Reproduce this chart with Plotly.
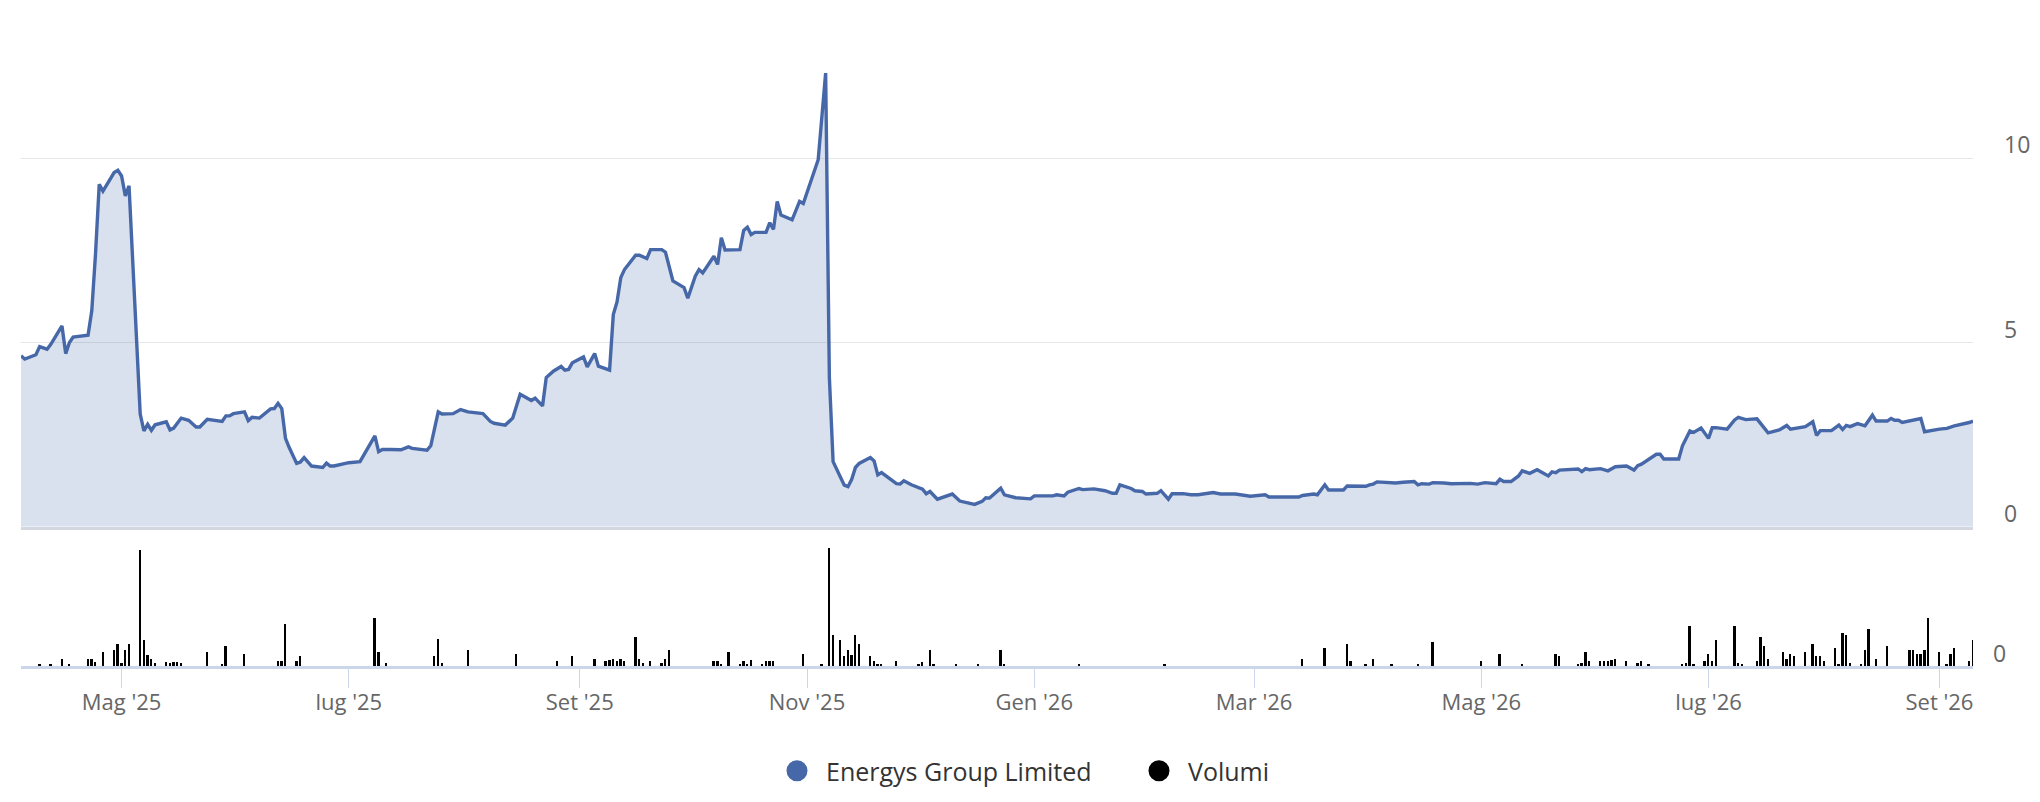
import plotly.graph_objects as go

# price line (Energys Group Limited)
price_dates = [
    "2025-04-04", "2025-04-05", "2025-04-08", "2025-04-09", "2025-04-11", "2025-04-12",
    "2025-04-15", "2025-04-16", "2025-04-17", "2025-04-18", "2025-04-22", "2025-04-23",
    "2025-04-24", "2025-04-25", "2025-04-26", "2025-04-29", "2025-04-30", "2025-05-01",
    "2025-05-02", "2025-05-03", "2025-05-06", "2025-05-07", "2025-05-08", "2025-05-09",
    "2025-05-10", "2025-05-13", "2025-05-14", "2025-05-15", "2025-05-17", "2025-05-19",
    "2025-05-21", "2025-05-22", "2025-05-24", "2025-05-28", "2025-05-29", "2025-05-30",
    "2025-05-31", "2025-06-03", "2025-06-04", "2025-06-05", "2025-06-07", "2025-06-10",
    "2025-06-11", "2025-06-12", "2025-06-13", "2025-06-14", "2025-06-15", "2025-06-17",
    "2025-06-18", "2025-06-19", "2025-06-21", "2025-06-24", "2025-06-25", "2025-06-26",
    "2025-06-27", "2025-07-01", "2025-07-04", "2025-07-08", "2025-07-09", "2025-07-10",
    "2025-07-12", "2025-07-15", "2025-07-17", "2025-07-18", "2025-07-22", "2025-07-23",
    "2025-07-25", "2025-07-26", "2025-07-29", "2025-07-31", "2025-08-02", "2025-08-05",
    "2025-08-06", "2025-08-08", "2025-08-09", "2025-08-12", "2025-08-14", "2025-08-16",
    "2025-08-19", "2025-08-20", "2025-08-22", "2025-08-23", "2025-08-25", "2025-08-27",
    "2025-08-28", "2025-08-29", "2025-08-30", "2025-09-02", "2025-09-03", "2025-09-05",
    "2025-09-06", "2025-09-09", "2025-09-10", "2025-09-11", "2025-09-12", "2025-09-13",
    "2025-09-16", "2025-09-17", "2025-09-19", "2025-09-20", "2025-09-23", "2025-09-24",
    "2025-09-25", "2025-09-26", "2025-09-29", "2025-09-30", "2025-10-02", "2025-10-03",
    "2025-10-04", "2025-10-07", "2025-10-08", "2025-10-09", "2025-10-10", "2025-10-14",
    "2025-10-15", "2025-10-16", "2025-10-17", "2025-10-18", "2025-10-21", "2025-10-22",
    "2025-10-23", "2025-10-24", "2025-10-25", "2025-10-28", "2025-10-30", "2025-10-31",
    "2025-11-04", "2025-11-06", "2025-11-07", "2025-11-08", "2025-11-11", "2025-11-12",
    "2025-11-13", "2025-11-14", "2025-11-15", "2025-11-18", "2025-11-19", "2025-11-20",
    "2025-11-21", "2025-11-25", "2025-11-26", "2025-11-27", "2025-11-29", "2025-12-02",
    "2025-12-03", "2025-12-04", "2025-12-06", "2025-12-10", "2025-12-12", "2025-12-16",
    "2025-12-18", "2025-12-19", "2025-12-20", "2025-12-23", "2025-12-24", "2025-12-27",
    "2025-12-31", "2026-01-01", "2026-01-06", "2026-01-07", "2026-01-09", "2026-01-10",
    "2026-01-13", "2026-01-14", "2026-01-17", "2026-01-20", "2026-01-22", "2026-01-23",
    "2026-01-24", "2026-01-27", "2026-01-28", "2026-01-30", "2026-01-31", "2026-02-03",
    "2026-02-04", "2026-02-06", "2026-02-07", "2026-02-10", "2026-02-12", "2026-02-14",
    "2026-02-18", "2026-02-20", "2026-02-24", "2026-02-28", "2026-03-04", "2026-03-05",
    "2026-03-08", "2026-03-13", "2026-03-14", "2026-03-17", "2026-03-18", "2026-03-20",
    "2026-03-21", "2026-03-25", "2026-03-26", "2026-03-29", "2026-03-31", "2026-04-01",
    "2026-04-02", "2026-04-03", "2026-04-06", "2026-04-08", "2026-04-10", "2026-04-13",
    "2026-04-14", "2026-04-15", "2026-04-17", "2026-04-18", "2026-04-21", "2026-04-23",
    "2026-04-28", "2026-04-29", "2026-04-30", "2026-05-02", "2026-05-05", "2026-05-06",
    "2026-05-07", "2026-05-09", "2026-05-11", "2026-05-12", "2026-05-14", "2026-05-16",
    "2026-05-19", "2026-05-20", "2026-05-21", "2026-05-22", "2026-05-27", "2026-05-28",
    "2026-05-29", "2026-05-30", "2026-06-02", "2026-06-04", "2026-06-06", "2026-06-09",
    "2026-06-11", "2026-06-12", "2026-06-13", "2026-06-17", "2026-06-18", "2026-06-19",
    "2026-06-23", "2026-06-24", "2026-06-26", "2026-06-27", "2026-06-29", "2026-07-01",
    "2026-07-02", "2026-07-03", "2026-07-06", "2026-07-08", "2026-07-09", "2026-07-11",
    "2026-07-14", "2026-07-17", "2026-07-20", "2026-07-22", "2026-07-23", "2026-07-27",
    "2026-07-29", "2026-07-30", "2026-07-31", "2026-08-03", "2026-08-05", "2026-08-06",
    "2026-08-07", "2026-08-08", "2026-08-10", "2026-08-12", "2026-08-14", "2026-08-15",
    "2026-08-18", "2026-08-19", "2026-08-20", "2026-08-21", "2026-08-22", "2026-08-27",
    "2026-08-28", "2026-09-01", "2026-09-03", "2026-09-05", "2026-09-07", "2026-09-09",
    "2026-09-10",
]
price_values = [
    4.64, 4.55, 4.67, 4.89, 4.82, 4.95,
    5.45, 4.70, 5.00, 5.15, 5.20, 5.86,
    7.40, 9.29, 9.11, 9.61, 9.67, 9.52,
    8.98, 9.25, 3.06, 2.60, 2.78, 2.62,
    2.77, 2.85, 2.63, 2.68, 2.95, 2.89,
    2.71, 2.71, 2.92, 2.86, 3.01, 3.01,
    3.07, 3.12, 2.88, 2.97, 2.95, 3.20,
    3.21, 3.35, 3.21, 2.40, 2.15, 1.72,
    1.76, 1.88, 1.65, 1.61, 1.73, 1.65,
    1.65, 1.74, 1.77, 2.47, 2.04, 2.10,
    2.10, 2.09, 2.17, 2.13, 2.08, 2.20,
    3.12, 3.06, 3.07, 3.18, 3.12, 3.07,
    3.07, 2.86, 2.81, 2.76, 2.95, 3.60,
    3.43, 3.49, 3.28, 4.05, 4.23, 4.35,
    4.25, 4.27, 4.45, 4.61, 4.34, 4.70,
    4.36, 4.25, 5.76, 6.10, 6.76, 6.98,
    7.37, 7.37, 7.28, 7.52, 7.52, 7.45,
    7.07, 6.67, 6.49, 6.20, 6.80, 6.98,
    6.89, 7.34, 7.12, 7.84, 7.51, 7.52,
    8.04, 8.13, 7.93, 7.99, 7.99, 8.25,
    8.07, 8.83, 8.46, 8.33, 8.83, 8.77,
    9.96, 12.31, 4.05, 1.77, 1.13, 1.09,
    1.29, 1.61, 1.72, 1.88, 1.79, 1.41,
    1.47, 1.17, 1.16, 1.25, 1.14, 1.02,
    0.90, 0.96, 0.75, 0.89, 0.70, 0.61,
    0.69, 0.79, 0.78, 1.05, 0.87, 0.79,
    0.76, 0.84, 0.84, 0.87, 0.84, 0.94,
    1.04, 1.01, 1.03, 0.98, 0.91, 0.91,
    1.14, 1.04, 0.98, 0.96, 0.89, 0.91,
    0.98, 0.75, 0.90, 0.90, 0.87, 0.87,
    0.93, 0.89, 0.89, 0.83, 0.87, 0.81,
    0.81, 0.81, 0.85, 0.89, 0.87, 1.14,
    1.00, 1.00, 1.11, 1.11, 1.10, 1.14,
    1.16, 1.22, 1.21, 1.19, 1.21, 1.23,
    1.14, 1.17, 1.16, 1.20, 1.19, 1.17,
    1.18, 1.16, 1.16, 1.20, 1.17, 1.29,
    1.23, 1.23, 1.38, 1.52, 1.45, 1.55,
    1.38, 1.49, 1.47, 1.54, 1.57, 1.50,
    1.58, 1.55, 1.58, 1.52, 1.63, 1.65,
    1.54, 1.66, 1.70, 1.97, 1.97, 1.84,
    1.84, 2.20, 2.60, 2.56, 2.68, 2.40,
    2.69, 2.69, 2.65, 2.90, 2.97, 2.91,
    2.93, 2.55, 2.63, 2.75, 2.65, 2.72,
    2.85, 2.48, 2.61, 2.61, 2.76, 2.64,
    2.75, 2.72, 2.80, 2.74, 3.03, 2.87,
    2.87, 2.94, 2.89, 2.89, 2.83, 2.94,
    2.58, 2.65, 2.67, 2.74, 2.78, 2.83,
    2.87,
]

# volume bars (Volumi)
volume_dates = [
    "2025-04-09", "2025-04-12", "2025-04-15", "2025-04-17", "2025-04-22", "2025-04-23",
    "2025-04-24", "2025-04-26", "2025-04-29", "2025-04-30", "2025-05-01", "2025-05-02",
    "2025-05-03", "2025-05-06", "2025-05-07", "2025-05-08", "2025-05-09", "2025-05-10",
    "2025-05-13", "2025-05-14", "2025-05-15", "2025-05-16", "2025-05-17", "2025-05-24",
    "2025-05-28", "2025-05-29", "2025-06-03", "2025-06-12", "2025-06-13", "2025-06-14",
    "2025-06-17", "2025-06-18", "2025-07-08", "2025-07-09", "2025-07-11", "2025-07-24",
    "2025-07-25", "2025-07-26", "2025-08-02", "2025-08-15", "2025-08-26", "2025-08-30",
    "2025-09-05", "2025-09-08", "2025-09-09", "2025-09-10", "2025-09-11", "2025-09-12",
    "2025-09-13", "2025-09-16", "2025-09-17", "2025-09-18", "2025-09-20", "2025-09-23",
    "2025-09-24", "2025-09-25", "2025-10-07", "2025-10-08", "2025-10-09", "2025-10-11",
    "2025-10-14", "2025-10-15", "2025-10-16", "2025-10-17", "2025-10-20", "2025-10-21",
    "2025-10-22", "2025-10-23", "2025-10-31", "2025-11-05", "2025-11-07", "2025-11-08",
    "2025-11-10", "2025-11-11", "2025-11-12", "2025-11-13", "2025-11-14", "2025-11-15",
    "2025-11-18", "2025-11-19", "2025-11-20", "2025-11-21", "2025-11-25", "2025-12-01",
    "2025-12-02", "2025-12-04", "2025-12-05", "2025-12-11", "2025-12-17", "2025-12-23",
    "2025-12-24", "2026-01-13", "2026-02-05", "2026-03-14", "2026-03-20", "2026-03-26",
    "2026-03-27", "2026-03-31", "2026-04-02", "2026-04-07", "2026-04-14", "2026-04-18",
    "2026-05-01", "2026-05-06", "2026-05-12", "2026-05-21", "2026-05-22", "2026-05-27",
    "2026-05-28", "2026-05-29", "2026-05-30", "2026-06-02", "2026-06-03", "2026-06-04",
    "2026-06-05", "2026-06-06", "2026-06-09", "2026-06-12", "2026-06-13", "2026-06-15",
    "2026-06-24", "2026-06-25", "2026-06-26", "2026-06-27", "2026-06-30", "2026-07-01",
    "2026-07-02", "2026-07-03", "2026-07-08", "2026-07-09", "2026-07-10", "2026-07-14",
    "2026-07-15", "2026-07-16", "2026-07-17", "2026-07-21", "2026-07-22", "2026-07-23",
    "2026-07-24", "2026-07-27", "2026-07-29", "2026-07-30", "2026-07-31", "2026-08-01",
    "2026-08-04", "2026-08-05", "2026-08-06", "2026-08-07", "2026-08-08", "2026-08-11",
    "2026-08-12", "2026-08-13", "2026-08-15", "2026-08-18", "2026-08-24", "2026-08-25",
    "2026-08-26", "2026-08-27", "2026-08-28", "2026-08-29", "2026-09-01", "2026-09-03",
    "2026-09-04", "2026-09-05", "2026-09-09", "2026-09-10",
]
volume_values = [
    2200, 2200, 6800, 2200, 6800, 6800,
    3500, 13500, 15500, 22200, 2800, 15500,
    22200, 116800, 26200, 11200, 6800, 2800,
    4200, 2800, 4200, 3500, 2800, 13500,
    2200, 20200, 11500, 4500, 4500, 42200,
    4500, 9500, 48500, 13500, 2800, 9500,
    26800, 2800, 15500, 11500, 4500, 9500,
    6800, 4500, 6200, 6800, 4500, 6800,
    4500, 28800, 6800, 2800, 4500, 2800,
    6800, 15500, 4500, 4500, 2200, 13500,
    2200, 4500, 2200, 6200, 2200, 4500,
    4500, 4500, 11500, 2200, 118800, 30800,
    26200, 9500, 15500, 10800, 30800, 22200,
    9500, 4500, 2200, 2200, 4500, 2200,
    3500, 15500, 2200, 2200, 2200, 15500,
    2200, 2200, 2200, 6800, 17800, 22200,
    4500, 2200, 6800, 2200, 2200, 24200,
    4500, 11500, 2200, 11500, 9500, 2200,
    2800, 13500, 4500, 4500, 4500, 4500,
    5500, 6800, 4500, 2800, 4500, 2200,
    2200, 2800, 40200, 2200, 4500, 11500,
    4500, 26200, 40200, 2800, 2200, 4500,
    28800, 20200, 6800, 13500, 6800, 11500,
    9500, 13500, 22200, 9500, 9500, 4500,
    17800, 2200, 33500, 30800, 2800, 2200,
    15500, 37500, 6800, 20200, 15500, 15500,
    11500, 11500, 15500, 48500, 13500, 2200,
    11500, 17800, 4500, 26200,
]

# x axis
x_start, x_end = "2025-04-04", "2026-09-10"
tick_dates = ["2025-05-01", "2025-07-01", "2025-09-01", "2025-11-01", "2026-01-01",
              "2026-03-01", "2026-05-01", "2026-07-01", "2026-09-01"]
tick_labels = ["Mag '25", "lug '25", "Set '25", "Nov '25", "Gen '26",
               "Mar '26", "Mag '26", "lug '26", "Set '26"]

LINE = "#4768a8"
FONT = "Open Sans"
# the page body keeps its 8px margin, so the figure is 16px smaller than the window
W, H = 2024, 786

fig = go.Figure()

fig.add_trace(go.Scatter(
    x=price_dates, y=price_values, mode="lines",
    line=dict(color=LINE, width=3.4),
    fill="tozeroy", fillcolor="rgba(71,104,168,0.2)",
    xaxis="x2", yaxis="y", showlegend=False, hoverinfo="skip",
))

fig.add_trace(go.Bar(
    x=volume_dates, y=volume_values,
    marker=dict(color="#000000", line=dict(width=0)),
    width=0.5 * 86400000,
    xaxis="x", yaxis="y2", showlegend=False, hoverinfo="skip",
))

# legend entries drawn as round markers
fig.add_trace(go.Scatter(x=[None], y=[None], mode="markers", name="Energys Group Limited",
                         marker=dict(color=LINE, size=20, line=dict(color=LINE, width=5))))
fig.add_trace(go.Scatter(x=[None], y=[None], mode="markers", name="Volumi",
                         marker=dict(color="#000000", size=20, line=dict(color="#000000", width=5))))

x_dom = [13 / W, 1965 / W]

fig.update_layout(
    width=W, height=H,
    margin=dict(l=0, r=0, t=0, b=0),
    paper_bgcolor="white", plot_bgcolor="white",
    font=dict(family=FONT, color="#666666", size=23),
    bargap=0,
    xaxis=dict(
        domain=x_dom, anchor="y2", type="date", range=[x_start, x_end],
        tickvals=tick_dates, ticktext=tick_labels,
        ticks="outside", ticklen=19, tickwidth=1.3, tickcolor="#ccd6eb",
        showline=True, linecolor="#ccd6eb", linewidth=2.5,
        showgrid=False, zeroline=False,
        ticklabelstandoff=-4,
        tickfont=dict(family=FONT, size=22, color="#666666"),
    ),
    xaxis2=dict(
        domain=x_dom, anchor="y", matches="x", type="date",
        showticklabels=False, ticks="",
        showline=True, linecolor="#d3d8e0", linewidth=2.5,
        showgrid=False, zeroline=False,
    ),
    yaxis=dict(
        domain=[(H - 521.5) / H, (H - 2.8) / H], range=[0, 14],
        side="right", anchor="x2",
        tickvals=[0, 5, 10], ticktext=["0", "5", "10"],
        showgrid=True, gridcolor="#e6e6e6", gridwidth=1.3,
        zeroline=False, showline=False, ticks="",
        ticklabelshift=-13, ticklabelstandoff=30,
        tickfont=dict(family=FONT, size=23, color="#666666"),
    ),
    yaxis2=dict(
        domain=[(H - 661.5) / H, (H - 537) / H], range=[0, 124500],
        side="right", anchor="x",
        tickvals=[0], ticktext=["0"],
        showgrid=False, zeroline=False, showline=False, ticks="",
        ticklabelshift=-12, ticklabelstandoff=19,
        tickfont=dict(family=FONT, size=23, color="#666666"),
    ),
    legend=dict(
        orientation="h", x=0.5 + 110 / W, xanchor="center", y=(H - 767) / H, yanchor="middle",
        font=dict(family=FONT, size=25, color="#333333"),
        itemwidth=48, entrywidth=299,
        bgcolor="rgba(0,0,0,0)",
    ),
)

fig.write_html("out.html")
